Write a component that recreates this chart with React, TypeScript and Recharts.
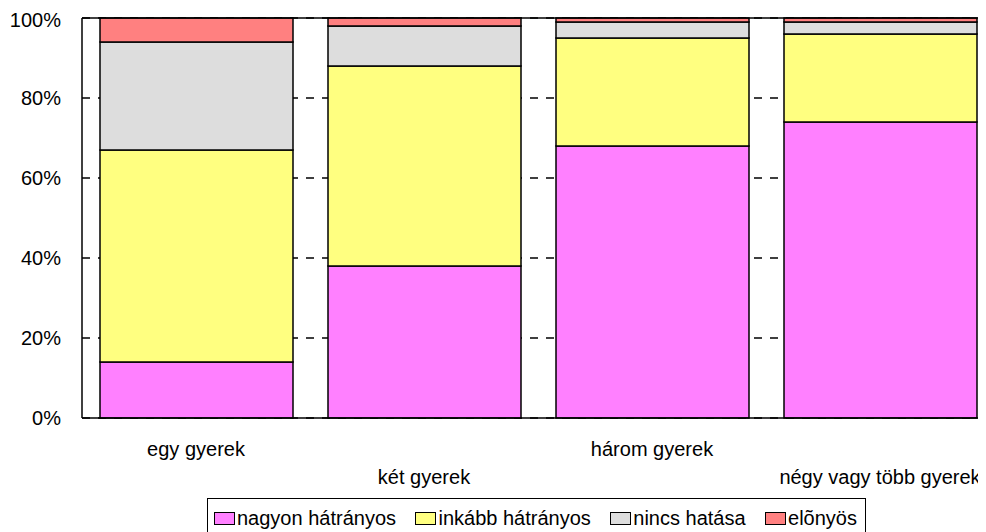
import {
  Bar,
  XAxis,
  YAxis,
  Legend,
  BarChart,
  CartesianGrid,
  ReferenceLine,
} from "recharts";

const CATEGORIES = ["egy gyerek", "két gyerek", "három gyerek", "négy vagy több gyerek"];
const NAGYON = [14, 38, 68, 74];
const INKABB = [53, 50, 27, 22];
const NINCS = [27, 10, 4, 3];
const ELONYOS = [6, 2, 1, 1];
const Y_TICKS = [0, 20, 40, 60, 80, 100];

const SERIES = [
  { key: "nagyon", name: "nagyon hátrányos", fill: "#FF80FF" },
  { key: "inkabb", name: "inkább hátrányos", fill: "#FFFF80" },
  { key: "nincs", name: "nincs hatása", fill: "#DDDDDD" },
  { key: "elonyos", name: "elõnyös", fill: "#FF8080" },
];

const data = CATEGORIES.map((name, i) => ({
  name,
  nagyon: NAGYON[i],
  inkabb: INKABB[i],
  nincs: NINCS[i],
  elonyos: ELONYOS[i],
}));

const FONT = "'Liberation Sans', Arial, sans-serif";

// labels alternate between two rows like the original
const CategoryTick = ({ x, y, payload, index }: any) => (
  <text
    x={x}
    y={y + (index % 2 === 0 ? 30 : 58)}
    textAnchor="middle"
    fill="#000"
    fontSize={20}
    fontFamily={FONT}
  >
    {payload.value}
  </text>
);

const LegendBox = () => (
  <div
    style={{
      boxSizing: "border-box",
      width: 659,
      height: 40,
      border: "1px solid #000",
      padding: "7px 8px 0 6px",
      display: "flex",
      justifyContent: "space-between",
      fontFamily: FONT,
      fontSize: 20,
      color: "#000",
      background: "#fff",
    }}
  >
    {SERIES.map((s) => (
      <div key={s.key} style={{ display: "flex", alignItems: "center", height: 24 }}>
        <span
          style={{
            display: "inline-block",
            width: 19,
            height: 11,
            border: "1px solid #000",
            background: s.fill,
            marginRight: 2,
          }}
        />
        <span>{s.name}</span>
      </div>
    ))}
  </div>
);

const App = () => {
  return (
    <div style={{ width: 978, height: 524, overflow: "hidden" }}>
      <BarChart
        width={986}
        height={540}
        data={data}
        margin={{ top: 10, right: 0, left: 0, bottom: 40 }}
        style={{ fontFamily: FONT }}
      >
        <CartesianGrid vertical={false} stroke="#000" strokeWidth={1.5} strokeDasharray="8 8" />
        <XAxis
          dataKey="name"
          height={90}
          axisLine={{ stroke: "#000", strokeWidth: 1.5 }}
          tickLine={false}
          interval={0}
          tick={<CategoryTick />}
        />
        <YAxis
          width={74}
          domain={[0, 100]}
          ticks={Y_TICKS}
          tickFormatter={(v: number) => `${v}%`}
          axisLine={{ stroke: "#000", strokeWidth: 1.5 }}
          tickLine={false}
          tickSize={0}
          tickMargin={21}
          tick={{ fontSize: 20, fill: "#000", fontFamily: FONT }}
        />
        {SERIES.map((s) => (
          <Bar
            key={s.key}
            dataKey={s.key}
            name={s.name}
            stackId="a"
            fill={s.fill}
            stroke="#000"
            strokeWidth={1.5}
            barSize={193}
            isAnimationActive={false}
          />
        ))}
        <ReferenceLine y={100} stroke="#000" strokeWidth={1.5} />
        <Legend
          layout="horizontal"
          verticalAlign="middle"
          align="center"
          content={<LegendBox />}
          wrapperStyle={{ top: 490, left: 199, width: 659, height: 40 }}
        />
      </BarChart>
    </div>
  );
};

export default App;
